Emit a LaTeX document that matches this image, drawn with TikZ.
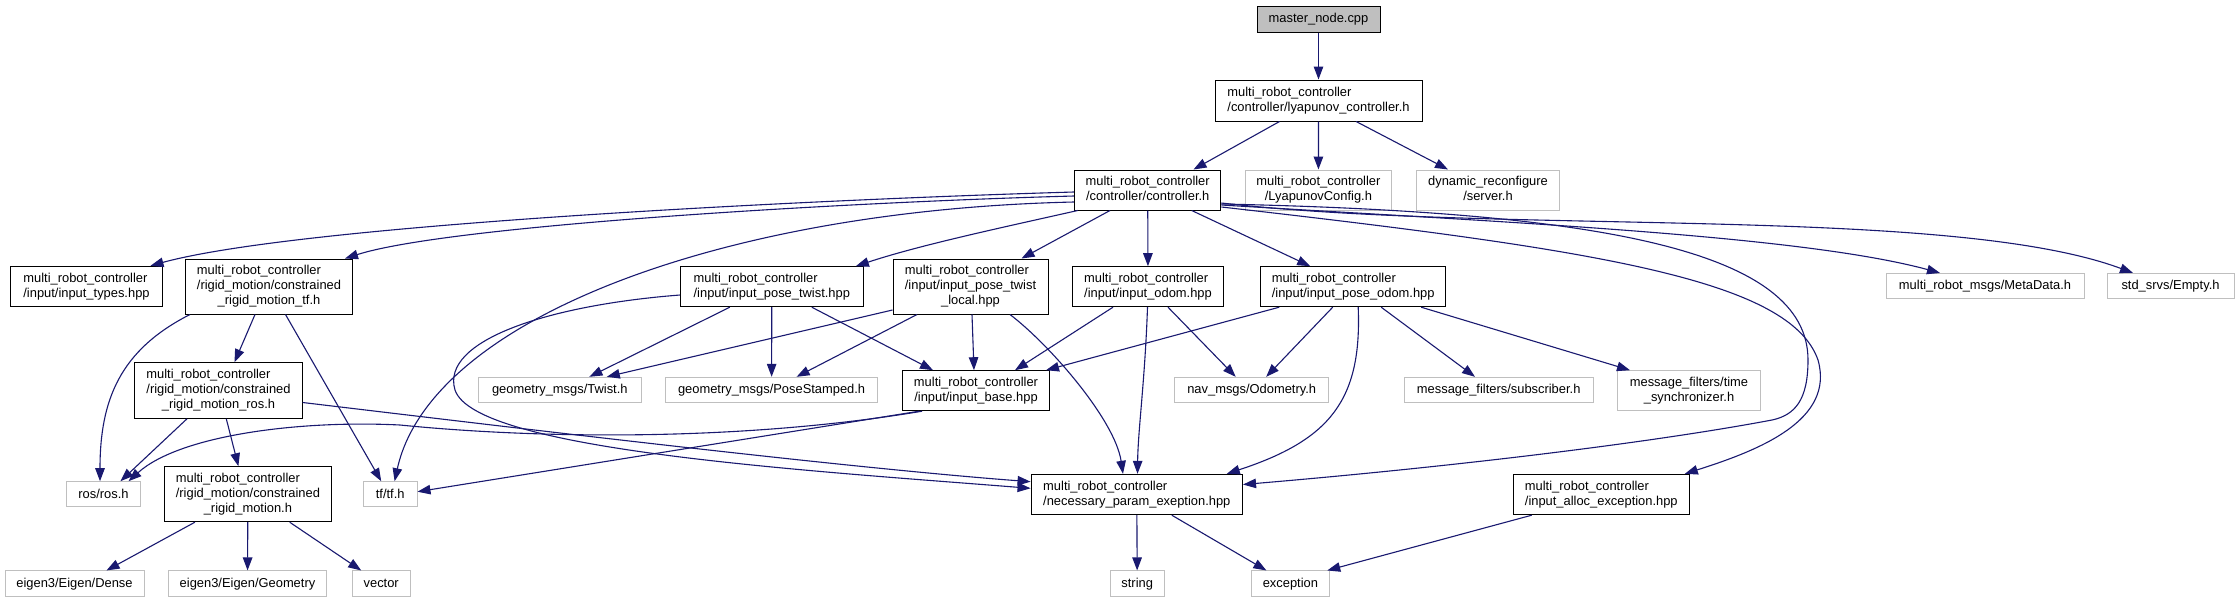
\documentclass[tikz,border=0pt]{standalone}
\usepackage{fontspec}
\setmainfont{Liberation Sans}
\usetikzlibrary{arrows.meta}
\definecolor{edgeblue}{HTML}{191970}
\definecolor{boxgrey}{HTML}{BFBFBF}
\newcommand{\lab}[1]{\begin{tabular}{@{}l@{}}#1\end{tabular}}
\newcommand{\cl}[1]{\multicolumn{1}{@{}c@{}}{#1}}
\begin{document}
\begin{tikzpicture}[x=1pt,y=-1pt,
  font=\fontsize{12.9}{15}\selectfont,
  base/.style={rectangle, inner sep=0pt, line width=1pt, anchor=center},
  blk/.style={base, draw=black, fill=white},
  gry/.style={base, draw=boxgrey, fill=white},
  e/.style={draw=edgeblue, line width=1.1pt, -{Triangle[length=13pt,width=9.5pt]}}]
\fill[white] (0,0) rectangle (2239,603);
\useasboundingbox (0,0) rectangle (2239,603);
% nodes
\node[blk, fill=boxgrey, minimum width=123pt, minimum height=26pt] (master) at (1318.5,19) {master\_node.cpp};
\node[blk, minimum width=207pt, minimum height=41pt] (lyap) at (1318.5,100.5) {\lab{multi\_robot\_controller\\\cl{/controller/lyapunov\_controller.h}}};
\node[blk, minimum width=146.5pt, minimum height=40pt] (ctrl) at (1147.7,190) {\lab{multi\_robot\_controller\\\cl{/controller/controller.h}}};
\node[gry, minimum width=146.7pt, minimum height=40pt] (lyapcfg) at (1318.4,190) {\lab{multi\_robot\_controller\\\cl{/LyapunovConfig.h}}};
\node[gry, minimum width=142.7pt, minimum height=40pt] (dynsrv) at (1488,190) {\lab{dynamic\_reconfigure\\\cl{/server.h}}};
\node[blk, minimum width=152pt, minimum height=40.5pt] (itypes) at (86.5,286.5) {\lab{multi\_robot\_controller\\\cl{/input/input\_types.hpp}}};
\node[blk, minimum width=167pt, minimum height=55pt] (crmtf) at (269,286.5) {\lab{multi\_robot\_controller\\/rigid\_motion/constrained\\\cl{\_rigid\_motion\_tf.h}}};
\node[blk, minimum width=182.4pt, minimum height=40pt] (ipt) at (771.8,286.7) {\lab{multi\_robot\_controller\\\cl{/input/input\_pose\_twist.hpp}}};
\node[blk, minimum width=155pt, minimum height=55pt] (iptl) at (970.5,286.5) {\lab{multi\_robot\_controller\\/input/input\_pose\_twist\\\cl{\_local.hpp}}};
\node[blk, minimum width=151.3pt, minimum height=40pt] (iodom) at (1148,286.7) {\lab{multi\_robot\_controller\\\cl{/input/input\_odom.hpp}}};
\node[blk, minimum width=185.5pt, minimum height=40pt] (ipodom) at (1353.2,286.7) {\lab{multi\_robot\_controller\\\cl{/input/input\_pose\_odom.hpp}}};
\node[gry, minimum width=198pt, minimum height=25.5pt] (meta) at (1985,286.2) {multi\_robot\_msgs/MetaData.h};
\node[gry, minimum width=127pt, minimum height=25.5pt] (empty) at (2170.5,286.2) {std\_srvs/Empty.h};
\node[blk, minimum width=167.4pt, minimum height=55.6pt] (crmros) at (218.5,390.5) {\lab{multi\_robot\_controller\\/rigid\_motion/constrained\\\cl{\_rigid\_motion\_ros.h}}};
\node[gry, minimum width=162.5pt, minimum height=25.4pt] (twist) at (559.8,390) {geometry\_msgs/Twist.h};
\node[gry, minimum width=212pt, minimum height=25.4pt] (posest) at (771.6,390) {geometry\_msgs/PoseStamped.h};
\node[blk, minimum width=147pt, minimum height=40pt] (ibase) at (976,390.7) {\lab{multi\_robot\_controller\\\cl{/input/input\_base.hpp}}};
\node[gry, minimum width=154pt, minimum height=25.4pt] (odom) at (1251.7,390) {nav\_msgs/Odometry.h};
\node[gry, minimum width=189.3pt, minimum height=25.4pt] (subs) at (1498.7,390) {message\_filters/subscriber.h};
\node[gry, minimum width=142.8pt, minimum height=40pt] (tsync) at (1689,390.7) {\lab{message\_filters/time\\\cl{\_synchronizer.h}}};
\node[gry, minimum width=73.5pt, minimum height=25pt] (ros) at (103.5,494.2) {ros/ros.h};
\node[blk, minimum width=166.7pt, minimum height=55pt] (crm) at (247.9,494.2) {\lab{multi\_robot\_controller\\/rigid\_motion/constrained\\\cl{\_rigid\_motion.h}}};
\node[gry, minimum width=53.6pt, minimum height=25pt] (tf) at (390.2,494.2) {tf/tf.h};
\node[blk, minimum width=211.5pt, minimum height=40.4pt] (nparam) at (1136.8,494.5) {\lab{multi\_robot\_controller\\\cl{/necessary\_param\_exeption.hpp}}};
\node[blk, minimum width=176pt, minimum height=40.4pt] (ialloc) at (1601.3,494.5) {\lab{multi\_robot\_controller\\\cl{/input\_alloc\_exception.hpp}}};
\node[gry, minimum width=139pt, minimum height=25.7pt] (dense) at (74.5,583.8) {eigen3/Eigen/Dense};
\node[gry, minimum width=158.5pt, minimum height=25.7pt] (geom) at (247.5,583.8) {eigen3/Eigen/Geometry};
\node[gry, minimum width=58.1pt, minimum height=25.7pt] (vector) at (381.2,583.8) {vector};
\node[gry, minimum width=54.4pt, minimum height=25.7pt] (string) at (1137.2,583.8) {string};
\node[gry, minimum width=78.7pt, minimum height=25.7pt] (exception) at (1290.4,583.8) {exception};
% edges
\draw[e] (master) -- (lyap);
\draw[e] ([xshift=-39pt]lyap.south) -- ([xshift=45.8pt]ctrl.north);
\draw[e] (lyap) -- (lyapcfg);
\draw[e] ([xshift=37.6pt]lyap.south) -- ([xshift=-40pt]dynsrv.north);
\draw[e] ([yshift=-2pt]ctrl.west) .. controls (800,200) and (300,225) .. ([xshift=64pt]itypes.north);
\draw[e] ([yshift=-6pt]ctrl.west) .. controls (850,202) and (450,225) .. ([xshift=76pt]crmtf.north);
\draw[e] ([yshift=-12pt]ctrl.west) .. controls (720,210) and (430,320) .. ([xshift=4.4pt]tf.north);
\draw[e] ([xshift=-70pt]ctrl.south) .. controls (1000,228) and (920,245) .. ([xshift=84pt]ipt.north);
\draw[e] ([xshift=-37.7pt]ctrl.south) -- ([xshift=51pt]iptl.north);
\draw[e] (ctrl) -- (iodom);
\draw[e] ([xshift=44pt]ctrl.south) -- ([xshift=-43pt]ipodom.north);
\draw[e] ([yshift=-15pt]ctrl.east) .. controls (1500,222) and (1800,235) .. ([xshift=-45pt]meta.north);
\draw[e] ([yshift=-13pt]ctrl.east) .. controls (1500,235) and (1950,205) .. ([xshift=-37.5pt]empty.north);
\draw[e] ([yshift=-14pt]ctrl.east) .. controls (1600,212) and (1808,250) .. (1808,360)
   .. controls (1808,400) and (1795,415) .. (1772,420)
   .. controls (1650,443) and (1450,467) .. ([yshift=10pt]nparam.east);
\draw[e] ([yshift=-17pt]ctrl.east) .. controls (1600,250) and (1790,280) .. (1818,360)
   .. controls (1835,420) and (1760,450) .. ([xshift=-5pt]ialloc.north east);
\draw[e] ([xshift=-79pt]crmtf.south) .. controls (120,350) and (100,400) .. ([xshift=-3.5pt]ros.north);
\draw[e] ([xshift=-14pt]crmtf.south) -- ([xshift=16pt]crmros.north);
\draw[e] ([xshift=16.5pt]crmtf.south) -- ([xshift=-9pt]tf.north);
\draw[e] ([xshift=-31.5pt]crmros.south) -- ([xshift=17pt]ros.north);
\draw[e] ([xshift=7.8pt]crmros.south) -- ([xshift=-9.5pt]crm.north);
\draw[e] ([yshift=-12pt]crmros.east) .. controls (550,432) and (850,468) .. ([yshift=12.8pt]nparam.west);
\draw[e] ([yshift=-8.3pt]ipt.west) .. controls (550,305) and (440,340) .. (455,390)
   .. controls (475,450) and (800,470) .. ([yshift=6.2pt]nparam.west);
\draw[e] ([xshift=-42pt]ipt.south) -- ([xshift=29.6pt]twist.north);
\draw[e] (ipt) -- (posest);
\draw[e] ([xshift=40pt]ipt.south) -- ([xshift=-43pt]ibase.north);
\draw[e] ([yshift=-23.5pt]iptl.west) -- ([xshift=47pt]twist.north);
\draw[e] ([xshift=-53.5pt]iptl.south) -- ([xshift=25pt]posest.north);
\draw[e] ([xshift=1.5pt]iptl.south) -- ([xshift=-2pt]ibase.north);
\draw[e] ([xshift=39.5pt]iptl.south) .. controls (1050,345) and (1115,420) .. ([xshift=-13.8pt]nparam.north);
\draw[e] ([xshift=-35pt]iodom.south) -- ([xshift=39pt]ibase.north);
\draw[e] ([xshift=-0.5pt]iodom.south) .. controls (1145,380) and (1138,430) .. ([xshift=0.7pt]nparam.north);
\draw[e] ([xshift=20pt]iodom.south) -- ([xshift=-16pt]odom.north);
\draw[e] ([xshift=-74pt]ipodom.south) -- ([xshift=-4pt]ibase.north east);
\draw[e] ([xshift=-20.5pt]ipodom.south) -- ([xshift=14.5pt]odom.north);
\draw[e] ([xshift=5pt]ipodom.south) .. controls (1362,400) and (1330,440) .. ([xshift=90pt]nparam.north);
\draw[e] ([xshift=28pt]ipodom.south) -- ([xshift=-23.7pt]subs.north);
\draw[e] ([xshift=68pt]ipodom.south) -- ([xshift=-59pt]tsync.north);
\draw[e] ([xshift=-54pt]ibase.south) .. controls (750,440) and (550,440) .. (400,425)
   .. controls (300,420) and (180,435) .. ([xshift=25pt]ros.north);
\draw[e] ([xshift=-57pt]ibase.south) -- ([yshift=2.5pt]tf.east);
\draw[e] ([xshift=-53pt]crm.south) -- ([xshift=32pt]dense.north);
\draw[e] (crm) -- (geom);
\draw[e] ([xshift=41.8pt]crm.south) -- ([xshift=-20pt]vector.north);
\draw[e] (nparam) -- (string);
\draw[e] ([xshift=35pt]nparam.south) -- ([xshift=-24pt]exception.north);
\draw[e] ([xshift=-69.6pt]ialloc.south) -- ([xshift=-3pt]exception.north east);
\end{tikzpicture}
\end{document}
